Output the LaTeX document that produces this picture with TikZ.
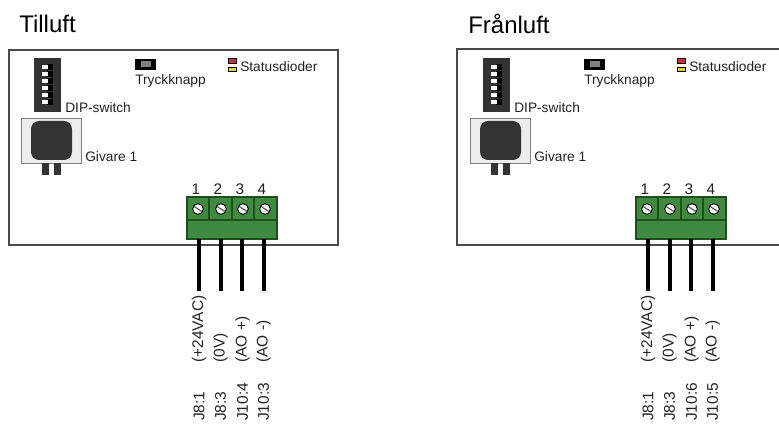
\documentclass[tikz,border=0pt]{standalone}
\usepackage{fontspec}
\setmainfont{Liberation Sans}
\definecolor{tgreen}{HTML}{3F8A3F}
\definecolor{tedge}{HTML}{1F4F1F}
\definecolor{frameg}{HTML}{4A4A4A}
\definecolor{dark}{HTML}{333333}
\definecolor{txt}{HTML}{222222}
\definecolor{ledred}{HTML}{C8323C}
\definecolor{ledyel}{HTML}{DCD23C}
\tikzset{
 framebox/.style={draw=frameg,line width=1pt},
 wire/.style={draw=black,line width=2.8pt},
 title/.style={anchor=west,inner sep=0,font=\fontsize{18}{20}\selectfont,text=black},
 lab/.style={anchor=west,inner sep=0,font=\fontsize{10.3}{12}\selectfont,text=txt},
 vlab/.style={anchor=west,rotate=90,inner sep=0,font=\fontsize{11.6}{13}\selectfont,text=txt},
 num/.style={inner sep=0,font=\fontsize{11.5}{13}\selectfont,text=txt},
 term/.style={fill=tgreen,draw=tedge,line width=0.8pt},
 screw/.style={circle,minimum size=8pt,inner sep=0,fill=white,draw=black,line width=0.7pt},
}
\newcommand{\panel}[5]{%
 \begin{scope}[shift={(#1,0)}]
  \node[title] (#2t) at (10,24) {#3};
  % DIP
  \fill[dark] (25,58) rectangle (52,112);
  \foreach \y in {67,74,81,88,95,102}{
    \fill[black] (38,\y-2.7) rectangle (44,\y+2.7);
    \fill[white] (33,\y-2) rectangle (39,\y+2);
  }
  \node[lab] (#2dip) at (56,107.5) {DIP-switch};
  % button
  \fill[black] (126,59) rectangle (147,70.5);
  \fill[gray] (132,61.5) rectangle (142,67.5);
  \node[lab] (#2btn) at (126,81) {Tryckknapp};
  % LEDs
  \draw[fill=ledred,draw=black,line width=0.5pt] (219.5,58.5) rectangle (227,63);
  \draw[fill=ledyel,draw=black,line width=0.5pt] (219.5,67) rectangle (227,71);
  \node[lab] (#2led) at (231,66.5) {Statusdioder};
  % sensor
  \draw[fill=black!7,draw=gray,line width=0.6pt] (12,118) rectangle (72,163);
  \fill[dark,rounded corners=6pt] (22,121) rectangle (63,160);
  \fill[dark] (33,163.5) rectangle (40,175);
  \fill[dark] (45,163.5) rectangle (52,175);
  \node[lab] (#2giv) at (76,157) {Givare 1};
  % terminal
  \draw[term] (178,197) rectangle (268,239);
  \draw[draw=tedge,line width=0.8pt] (178,220) -- (268,220);
  \foreach \x in {200,223,245} \draw[draw=tedge,line width=0.8pt] (\x,197) -- (\x,220);
  \foreach \n/\x/\nx/\wx in {1/189/187/190,2/212/209/212,3/234/231/233,4/256/253/255}{
    \node[screw] (#2s\n) at (\x,209) {};
    \draw[black!65,line width=0.9pt] (\x-4,206.5) -- (\x+4,211.5);
    \node[num] (#2n\n) at (\nx,189) {\n};
    \coordinate (#2b\n) at (\wx,239);
    \coordinate (#2e\n) at (\wx,291);
  }
  \draw[wire] (#2b1) -- (#2e1);
  \draw[wire] (#2b2) -- (#2e2);
  \draw[wire] (#2b3) -- (#2e3);
  \draw[wire] (#2b4) -- (#2e4);
  % rotated labels
  \node[vlab] (#2a1) at (190,363) {(+24VAC)};
  \node[vlab] (#2a2) at (211.5,363) {(0V)};
  \node[vlab] (#2a3) at (233.5,363) {(AO +)};
  \node[vlab] (#2a4) at (254.5,363) {(AO -)};
  \node[vlab] (#2j1) at (190,421) {J8:1};
  \node[vlab] (#2j2) at (211.5,421) {J8:3};
  \node[vlab] (#2j3) at (233.5,421) {#4};
  \node[vlab] (#2j4) at (254.5,421) {#5};
 \end{scope}}
\begin{document}
\begin{tikzpicture}[x=0.75pt,y=-0.75pt]
\useasboundingbox (0,0) rectangle (779,424);
\draw[framebox] (9,50) rectangle (338,245);
\draw[framebox] (779,49) -- (457,49) -- (457,245) -- (779,245);
\panel{9}{l}{Tilluft}{J10:4}{J10:3}
\panel{458}{r}{Frånluft}{J10:6}{J10:5}
\end{tikzpicture}
\end{document}
